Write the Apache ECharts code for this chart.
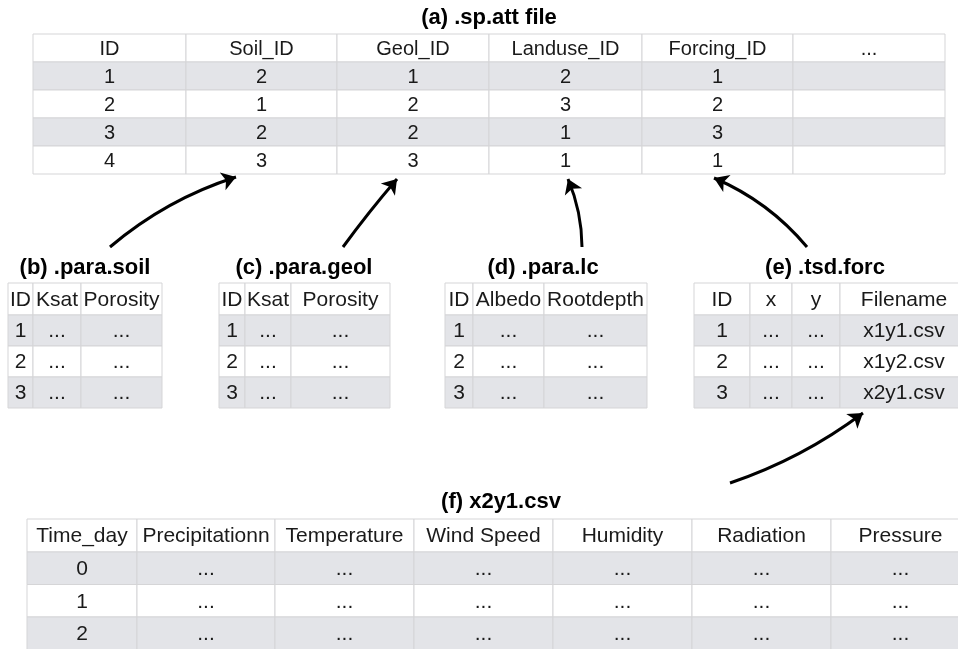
<!DOCTYPE html>
<html>
<head>
<meta charset="utf-8">
<script src="https://cdn.jsdelivr.net/npm/echarts@6/dist/echarts.min.js"></script>
<style>html,body{margin:0;padding:0;background:#fff}#main{width:958px;height:649px}</style>
</head>
<body>
<div id="main"></div>
<script>
// ---- data ----
const titles = ['(a) .sp.att file', '(b) .para.soil', '(c) .para.geol', '(d) .para.lc', '(e) .tsd.forc', '(f) x2y1.csv'];
const attColumns = ['ID', 'Soil_ID', 'Geol_ID', 'Landuse_ID', 'Forcing_ID', '...'];
const attRows = [['1','2','1','2','1',''],['2','1','2','3','2',''],['3','2','2','1','3',''],['4','3','3','1','1','']];
const soilColumns = ['ID', 'Ksat', 'Porosity'];
const soilRows = [['1','...','...'],['2','...','...'],['3','...','...']];
const geolColumns = ['ID', 'Ksat', 'Porosity'];
const geolRows = [['1','...','...'],['2','...','...'],['3','...','...']];
const lcColumns = ['ID', 'Albedo', 'Rootdepth'];
const lcRows = [['1','...','...'],['2','...','...'],['3','...','...']];
const forcColumns = ['ID', 'x', 'y', 'Filename'];
const forcRows = [['1','...','...','x1y1.csv'],['2','...','...','x1y2.csv'],['3','...','...','x2y1.csv']];
const csvColumns = ['Time_day', 'Precipitationn', 'Temperature', 'Wind Speed', 'Humidity', 'Radiation', 'Pressure'];
const csvRows = [['0','...','...','...','...','...','...'],['1','...','...','...','...','...','...'],['2','...','...','...','...','...','...']];

// ---- layout (positions / styles) ----
const tables = [
  {columns: attColumns, rows: attRows, x: 33, y: 34, cols: [153,151,152,153,151,152], headH: 28, rowH: 28, font: 20, tx: 489, ty: 18},
  {columns: soilColumns, rows: soilRows, x: 8, y: 283, cols: [25,48,81], headH: 32, rowH: 31, font: 21, tx: 85, ty: 268},
  {columns: geolColumns, rows: geolRows, x: 219, y: 283, cols: [26,46,99], headH: 32, rowH: 31, font: 21, tx: 304, ty: 268},
  {columns: lcColumns, rows: lcRows, x: 445, y: 283, cols: [28,71,103], headH: 32, rowH: 31, font: 21, tx: 543, ty: 268},
  {columns: forcColumns, rows: forcRows, x: 694, y: 283, cols: [56,42,48,128], headH: 32, rowH: 31, font: 21, tx: 825, ty: 268},
  {columns: csvColumns, rows: csvRows, x: 27, y: 519, cols: [110,138,139,139,139,139,139], headH: 33, rowH: 32.5, font: 21, tx: 501, ty: 502}
];
const arrows = [
  {from: [110, 247], to: [236, 177], curveness: 0.1},
  {from: [343, 247], to: [397, 179], curveness: 0.02},
  {from: [582, 247], to: [568, 179], curveness: -0.1},
  {from: [807, 247], to: [714, 178], curveness: -0.12},
  {from: [730, 483], to: [863, 413], curveness: -0.08}
];
const FONT = "'Liberation Sans', Arial, Helvetica, sans-serif";
const GRAY = '#e3e4e8';
const LINE = '#d5d5d7';

const cellData = [];
tables.forEach((tb, ti) => {
  [tb.columns].concat(tb.rows).forEach((row, ri) => {
    row.forEach((txt, ci) => cellData.push([ti, ri, ci]));
  });
});

function renderCell(params, api) {
  const ti = api.value(0), ri = api.value(1), ci = api.value(2);
  const tb = tables[ti];
  let x0 = tb.x;
  for (let k = 0; k < ci; k++) x0 += tb.cols[k];
  const x1 = x0 + tb.cols[ci];
  const y0 = ri === 0 ? tb.y : tb.y + tb.headH + (ri - 1) * tb.rowH;
  const y1 = ri === 0 ? tb.y + tb.headH : y0 + tb.rowH;
  const p0 = api.coord([x0, y0]);
  const p1 = api.coord([x1, y1]);
  const txt = ri === 0 ? tb.columns[ci] : tb.rows[ri - 1][ci];
  const fill = (ri > 0 && ri % 2 === 1) ? GRAY : '#ffffff';
  return {
    type: 'group',
    children: [
      {type: 'rect', shape: {x: p0[0], y: p0[1], width: p1[0] - p0[0], height: p1[1] - p0[1]},
       style: {fill: fill, stroke: LINE, lineWidth: 1}},
      {type: 'text', style: {text: txt, x: (p0[0] + p1[0]) / 2, y: (p0[1] + p1[1]) / 2 + 1,
       align: 'center', verticalAlign: 'middle', font: tb.font + 'px ' + FONT, fill: '#1a1a1a'}}
    ]
  };
}

function renderTitle(params, api) {
  const tb = tables[api.value(0)];
  const p = api.coord([tb.tx, tb.ty]);
  return {type: 'text', style: {text: titles[api.value(0)], x: p[0], y: p[1],
    align: 'center', verticalAlign: 'middle', font: 'bold 22px ' + FONT, fill: '#000'}};
}

const chart = echarts.init(document.getElementById('main'));
chart.setOption({
  animation: false,
  backgroundColor: '#ffffff',
  grid: {left: 0, right: 0, top: 0, bottom: 0},
  xAxis: {type: 'value', min: 0, max: 958, show: false},
  yAxis: {type: 'value', min: 0, max: 649, inverse: true, show: false},
  series: [
    {type: 'custom', coordinateSystem: 'cartesian2d', renderItem: renderCell, data: cellData, silent: true},
    {type: 'custom', coordinateSystem: 'cartesian2d', renderItem: renderTitle, data: titles.map((t, i) => [i, i]), silent: true},
    {type: 'lines', coordinateSystem: 'cartesian2d', symbol: ['none', 'arrow'], symbolSize: 14, silent: true,
     lineStyle: {color: '#000', width: 3, opacity: 1},
     data: arrows.map(a => ({coords: [a.from, a.to], lineStyle: {curveness: a.curveness}}))}
  ]
});
</script>
</body>
</html>
